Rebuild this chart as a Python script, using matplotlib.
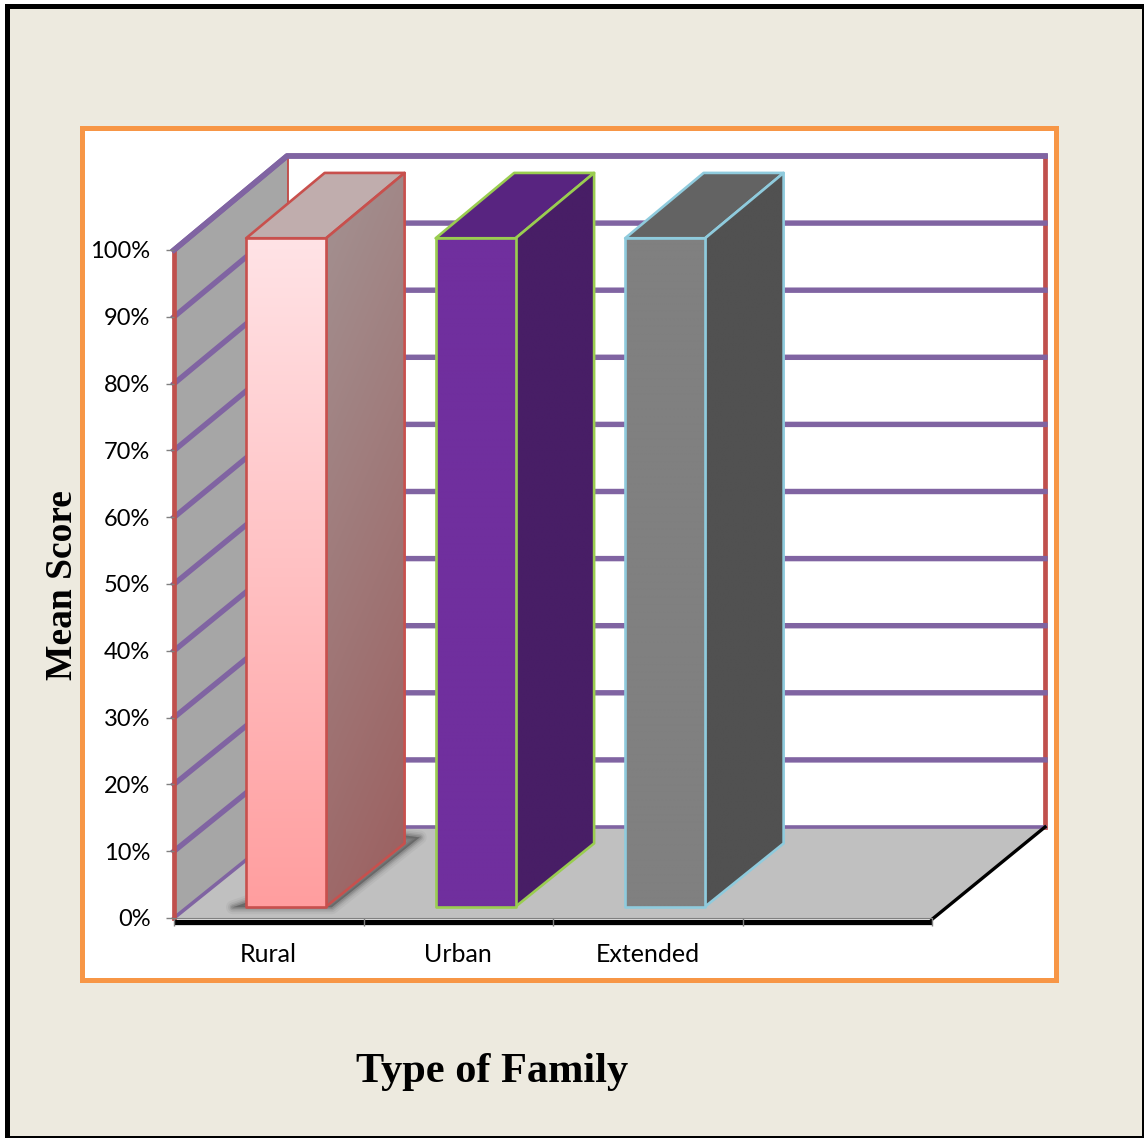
import matplotlib
matplotlib.use("Agg")
import matplotlib.pyplot as plt
from matplotlib.patches import Polygon, Rectangle
import numpy as np

categories = ["Rural", "Urban", "Extended"]
values = [100, 100, 100]
pct_ticks = [0, 10, 20, 30, 40, 50, 60, 70, 80, 90, 100]
pct_labels = ["0%", "10%", "20%", "30%", "40%", "50%", "60%", "70%", "80%", "90%", "100%"]
n_slots = 4

front_tops = ["#FFE3E6", "#702F9E", "#808080"]
front_bottoms = ["#FF9E9F", "#702F9E", "#808080"]
side_tops = ["#A39292", "#481E66", "#515151"]
side_bottoms = ["#9C5F5F", "#481E66", "#515151"]
top_colors = ["#C0ADAD", "#582480", "#636363"]
edge_colors = ["#C8504D", "#9ACD50", "#8FCBDD"]

PURPLE = "#8064A2"
RED = "#C0504D"

W, H = 1144, 1138
fig = plt.figure(figsize=(W / 100, H / 100), dpi=100, facecolor="white")

# page background and frames, in pixels
bg = fig.add_axes([0, 0, 1, 1])
bg.set_xlim(0, W)
bg.set_ylim(H, 0)
bg.axis("off")
bg.add_patch(Rectangle((5, 4), W - 5, H - 4, fc="black", ec="none"))
bg.add_patch(Rectangle((10, 9), 1132, 1127, fc="#EDEADF", ec="none"))
bg.add_patch(Rectangle((81.5, 127.5), 974, 852, fc="white", ec="#F79646", lw=3.6))

# front plane of the 3d box: 0..4 on x and 0..100 on y
ax = fig.add_axes([174 / W, 1 - 918 / H, 758 / W, 668 / H])
ax.patch.set_alpha(0)
for s in ax.spines.values():
    s.set_visible(False)

DX = 113 / 189.5
DY = 91 / 6.68
DY_STRETCH = 0.0045


def proj(x, y, d):
    return (x + d * DX, y + d * (DY + y * DY_STRETCH))


def face(pts, **kw):
    p = Polygon(pts, closed=True, clip_on=False, **kw)
    ax.add_patch(p)
    return p


def wall_line(pts, color, lw, z=1.2):
    xs, ys = zip(*pts)
    ax.plot(xs, ys, color=color, lw=lw, clip_on=False, zorder=z, solid_capstyle="projecting")


# side wall and floor
face([proj(0, 0, 0), proj(0, 0, 1), proj(0, 100, 1), proj(0, 100, 0)], fc="#A6A6A6", ec="none", zorder=1)
floor = face([proj(0, 0, 0), proj(n_slots, 0, 0), proj(n_slots, 0, 1), proj(0, 0, 1)],
             fc="#C0C0C0", ec="none", zorder=1.1)

# gridlines run along the side wall and then across the back wall
for v in pct_ticks:
    wall_line([proj(0, v, 0), proj(0, v, 1), proj(n_slots, v, 1)], PURPLE,
              3.9 if v else 2.6, z=1.15 if v == 0 else 1.0)

wall_line([proj(0, 0, 0), proj(0, 100, 0)], RED, 3.4, z=1.3)
wall_line([proj(0, 0, 1), proj(0, 100, 1)], RED, 2.8, z=0.9)
wall_line([proj(n_slots, 0, 1), proj(n_slots, 100, 1)], RED, 3.4, z=0.9)
wall_line([proj(0, 100, 0), proj(0, 100, 1), proj(n_slots, 100, 1)], PURPLE, 4.0, z=1.4)

# heavy front and right floor edges
ax.plot([0, n_slots], [-0.55, -0.55], color="black", lw=3.8, clip_on=False, zorder=1.5, solid_capstyle="butt")
ax.plot([0, n_slots], [0, 0], color="#808080", lw=0.8, clip_on=False, zorder=1.6)
wall_line([proj(n_slots, -0.2, 0), proj(n_slots, 0, 1)], "black", 2.4, z=1.5)


def gradient(top, bottom, extent, clip, z, diagonal=False):
    c0 = np.array(matplotlib.colors.to_rgb(top))
    c1 = np.array(matplotlib.colors.to_rgb(bottom))
    ny, nx = 200, 60
    yy, xx = np.mgrid[0:1:ny * 1j, 0:1:nx * 1j]
    t = 0.8 * yy + 0.2 * xx if diagonal else yy
    img = c0 + (c1 - c0) * t[..., None]
    im = ax.imshow(img, extent=extent, origin="upper", aspect="auto", zorder=z,
                   interpolation="bilinear")
    im.set_clip_path(clip)
    # the faces stick out above the axes box
    im.set_clip_box(fig.bbox)


D0, D1 = 0.125, 0.82
BAR_W = 0.422
for i, name in enumerate(categories):
    x0 = i + 0.306
    x1 = x0 + BAR_W
    v = values[i]
    z = 2 + i * 0.01
    ec = edge_colors[i]

    fl = proj(x0, 0, D0)
    fr = proj(x1, 0, D0)
    tl = proj(x0, v, D0)
    tr = proj(x1, v, D0)
    br = proj(x1, 0, D1)
    trb = proj(x1, v, D1)
    tlb = proj(x0, v, D1)

    # soft shadow on the floor behind the first bar
    if i == 0:
        for w, a in zip([10, 7, 4.5, 2.5], [0.05, 0.08, 0.12, 0.16]):
            sh = face([(fl[0] - 0.07, fl[1] - 0.1), (fr[0] + 0.03, fr[1] - 0.1),
                       (br[0] + 0.08, br[1] + 0.9), (br[0], br[1] + 1.2),
                       (fl[0], fl[1] + 0.6)],
                      fc="#303030", ec="#303030", lw=w, alpha=a, zorder=1.7, joinstyle="round")
            sh.set_clip_path(floor)

    # top, side and front faces
    face([tl, tr, trb, tlb], fc=top_colors[i], ec=ec, lw=1.9, zorder=z, joinstyle="round")

    side = face([fr, br, trb, tr], fc="none", ec="none", zorder=z)
    gradient(side_tops[i], side_bottoms[i], (fr[0], br[0], fr[1], trb[1]), side, z, diagonal=True)
    face([fr, br, trb, tr], fc="none", ec=ec, lw=1.9, zorder=z + 0.002, joinstyle="round")

    front = face([fl, fr, tr, tl], fc="none", ec="none", zorder=z)
    gradient(front_tops[i], front_bottoms[i], (fl[0], fr[0], fl[1], tl[1]), front, z + 0.003)
    face([fl, fr, tr, tl], fc="none", ec=ec, lw=1.9, zorder=z + 0.004, joinstyle="round")

ax.set_xlim(0, n_slots)
ax.set_ylim(0, 100)
ax.set_axisbelow(False)

ax.set_yticks(pct_ticks)
ax.set_yticklabels(pct_labels, fontfamily="Lato", fontsize=17, color="black")
ax.set_xticks(range(n_slots + 1))
ax.set_xticklabels([])
ax.set_xticks([0.5, 1.5, 2.5], categories, minor=True, fontfamily="Lato", fontsize=18, color="black")
ax.tick_params(axis="y", length=6, width=1, color="#808080", pad=11)
ax.tick_params(axis="x", which="major", length=6, width=1, color="#808080")
ax.tick_params(axis="x", which="minor", length=0, pad=18)

bg.text(62, 585, "Mean Score", rotation=90, ha="center", va="center",
        family="Liberation Serif", weight="bold", fontsize=27, color="black")
bg.text(492, 1072, "Type of Family", ha="center", va="center",
        family="Liberation Serif", weight="bold", fontsize=30.5, color="black")

fig.savefig("out.png", dpi=100)
